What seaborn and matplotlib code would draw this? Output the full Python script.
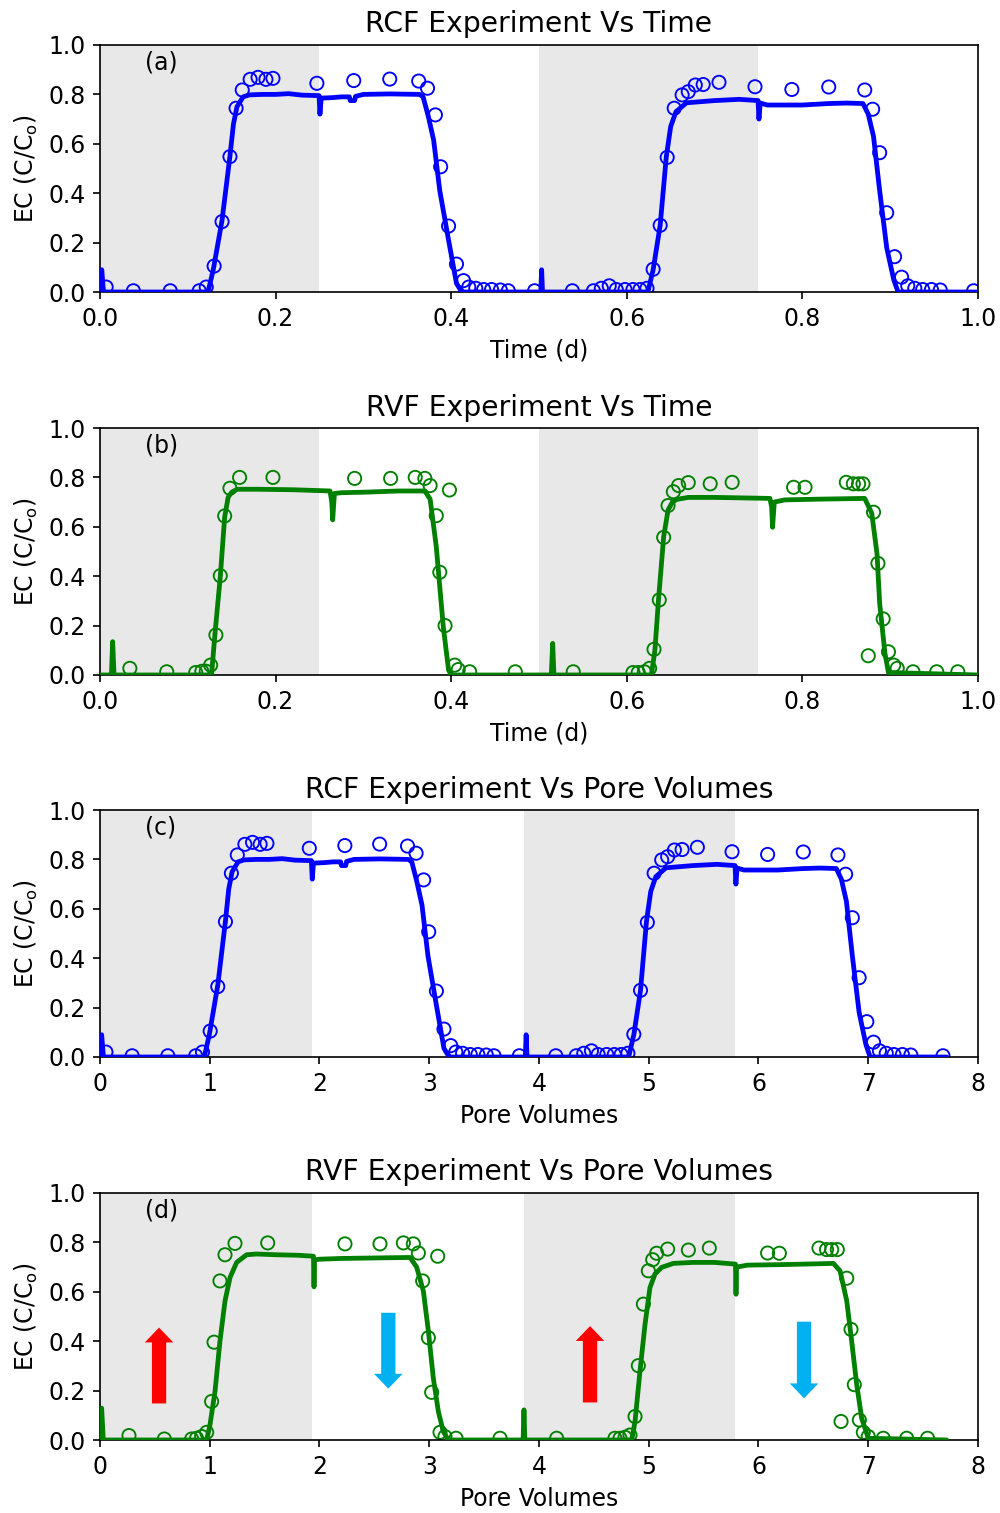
import matplotlib
matplotlib.use("Agg")
import matplotlib.pyplot as plt
import seaborn as sns
import pandas as pd

# ---------------- data ----------------
# (a) RCF vs time  (line = measured EC, markers = samples)
A_t = [0.000, 0.002, 0.004, 0.123, 0.129, 0.139, 0.148, 0.152, 0.156, 0.163, 0.170, 0.185, 0.200, 0.215, 0.230,
       0.2495, 0.2505, 0.252, 0.265, 0.275, 0.284, 0.285, 0.290, 0.291, 0.300, 0.330, 0.364, 0.368, 0.374, 0.380,
       0.387, 0.397, 0.406, 0.412, 0.502, 0.503, 0.504, 0.624, 0.630, 0.638, 0.645, 0.650, 0.656, 0.668, 0.700,
       0.728, 0.7495, 0.7505, 0.752, 0.760, 0.800, 0.830, 0.850, 0.869, 0.875, 0.881, 0.888, 0.896, 0.904, 0.909, 1.000]
A_v = [0.000, 0.090, 0.000, 0.000, 0.090, 0.290, 0.550, 0.680, 0.750, 0.790, 0.798, 0.800, 0.800, 0.803, 0.797,
       0.795, 0.720, 0.785, 0.787, 0.790, 0.790, 0.775, 0.775, 0.792, 0.800, 0.802, 0.800, 0.790, 0.710, 0.615,
       0.410, 0.210, 0.035, 0.000, 0.000, 0.090, 0.000, 0.000, 0.090, 0.270, 0.548, 0.670, 0.730, 0.766, 0.775,
       0.780, 0.775, 0.700, 0.765, 0.757, 0.757, 0.763, 0.765, 0.763, 0.720, 0.630, 0.410, 0.180, 0.050, 0.000, 0.000]
A_mt = [0.007, 0.038, 0.080, 0.113, 0.121, 0.130, 0.139, 0.148, 0.155, 0.162, 0.171, 0.180, 0.189, 0.197, 0.247,
        0.289, 0.330, 0.363, 0.373, 0.382, 0.388, 0.397, 0.406, 0.414, 0.420, 0.428, 0.437, 0.446, 0.456, 0.465, 0.495,
        0.538, 0.562, 0.571, 0.580, 0.588, 0.598, 0.607, 0.615, 0.623, 0.630, 0.638, 0.646, 0.654, 0.663, 0.670,
        0.678, 0.687, 0.705, 0.746, 0.788, 0.830, 0.871, 0.880, 0.888, 0.896, 0.905, 0.913, 0.920, 0.928, 0.937,
        0.947, 0.957, 0.995]
A_mv = [0.020, 0.005, 0.005, 0.005, 0.020, 0.105, 0.285, 0.548, 0.744, 0.818, 0.861, 0.869, 0.861, 0.865, 0.845,
        0.856, 0.862, 0.854, 0.825, 0.717, 0.507, 0.267, 0.113, 0.046, 0.020, 0.015, 0.010, 0.010, 0.008, 0.005, 0.005,
        0.005, 0.005, 0.015, 0.025, 0.010, 0.010, 0.010, 0.010, 0.015, 0.092, 0.270, 0.545, 0.744, 0.798, 0.811,
        0.838, 0.840, 0.849, 0.831, 0.820, 0.830, 0.818, 0.740, 0.564, 0.321, 0.143, 0.060, 0.025, 0.015, 0.010,
        0.010, 0.008, 0.005]

# (b) RVF vs time
B_t = [0.000, 0.013, 0.0144, 0.016, 0.127, 0.131, 0.137, 0.142, 0.146, 0.150, 0.156, 0.180, 0.220, 0.262, 0.264,
       0.265, 0.267, 0.275, 0.300, 0.340, 0.370, 0.376, 0.383, 0.387, 0.391, 0.397, 0.400, 0.514, 0.5156, 0.517,
       0.628, 0.632, 0.636, 0.642, 0.647, 0.652, 0.657, 0.670, 0.700, 0.763, 0.765, 0.766, 0.768, 0.780, 0.820,
       0.871, 0.879, 0.885, 0.888, 0.894, 0.898, 1.000]
B_v = [0.000, 0.000, 0.135, 0.000, 0.000, 0.169, 0.398, 0.640, 0.720, 0.740, 0.752, 0.752, 0.750, 0.745, 0.700,
       0.628, 0.735, 0.738, 0.740, 0.745, 0.745, 0.712, 0.520, 0.357, 0.195, 0.020, 0.000, 0.000, 0.128, 0.000,
       0.000, 0.100, 0.300, 0.560, 0.668, 0.700, 0.711, 0.719, 0.719, 0.715, 0.680, 0.598, 0.700, 0.709, 0.712,
       0.715, 0.655, 0.490, 0.290, 0.088, 0.010, 0.000]
B_mt = [0.034, 0.076, 0.109, 0.116, 0.121, 0.126, 0.132, 0.137, 0.142, 0.148, 0.159, 0.197, 0.290, 0.331, 0.359,
        0.370, 0.376, 0.398, 0.383, 0.387, 0.393, 0.404, 0.408, 0.421, 0.473,
        0.539, 0.607, 0.613, 0.620, 0.626, 0.631, 0.637, 0.642, 0.647, 0.653, 0.659, 0.670, 0.695, 0.720, 0.790,
        0.803, 0.850, 0.858, 0.864, 0.869, 0.881, 0.886, 0.892, 0.875, 0.898, 0.904, 0.908, 0.926, 0.953, 0.977]
B_mv = [0.027, 0.013, 0.010, 0.015, 0.015, 0.040, 0.162, 0.402, 0.644, 0.756, 0.800, 0.800, 0.796, 0.796, 0.800,
        0.796, 0.767, 0.749, 0.645, 0.416, 0.200, 0.040, 0.022, 0.013, 0.013,
        0.013, 0.010, 0.010, 0.013, 0.027, 0.104, 0.304, 0.557, 0.686, 0.742, 0.767, 0.779, 0.774, 0.780, 0.760,
        0.760, 0.780, 0.774, 0.774, 0.774, 0.659, 0.452, 0.227, 0.078, 0.094, 0.040, 0.027, 0.013, 0.013, 0.013]

# (c) RCF vs pore volumes
C_pv = [0.000, 0.015, 0.031, 0.950, 0.996, 1.073, 1.143, 1.173, 1.204, 1.258, 1.312, 1.428, 1.544, 1.660, 1.776,
        1.926, 1.934, 1.945, 2.046, 2.123, 2.192, 2.200, 2.239, 2.247, 2.316, 2.548, 2.810, 2.841, 2.887, 2.934,
        2.988, 3.065, 3.134, 3.181, 3.875, 3.883, 3.891, 4.817, 4.864, 4.925, 4.979, 5.018, 5.064, 5.157, 5.404,
        5.620, 5.786, 5.794, 5.805, 5.867, 6.176, 6.408, 6.562, 6.709, 6.755, 6.801, 6.855, 6.917, 6.979, 7.017, 7.715]
C_v = A_v
C_mpv = [0.054, 0.293, 0.618, 0.872, 0.934, 1.004, 1.073, 1.143, 1.197, 1.251, 1.320, 1.390, 1.459, 1.521, 1.907,
         2.231, 2.548, 2.802, 2.880, 2.949, 2.995, 3.065, 3.134, 3.196, 3.242, 3.304, 3.374, 3.443, 3.520, 3.590, 3.821,
         4.153, 4.339, 4.408, 4.478, 4.539, 4.617, 4.686, 4.748, 4.810, 4.864, 4.925, 4.987, 5.049, 5.118, 5.172,
         5.234, 5.304, 5.443, 5.759, 6.083, 6.408, 6.724, 6.794, 6.855, 6.917, 6.987, 7.048, 7.102, 7.164, 7.234,
         7.311, 7.388, 7.681]
C_mv = A_mv

# (d) RVF vs pore volumes
D_pv = [0.000, 0.015, 0.030, 0.972, 1.002, 1.048, 1.093, 1.139, 1.185, 1.245, 1.336, 1.428, 1.600, 1.800, 1.945,
        1.950, 1.955, 2.000, 2.200, 2.500, 2.825, 2.885, 2.946, 2.992, 3.037, 3.083, 3.128, 3.174, 3.855, 3.863,
        3.871, 4.845, 4.875, 4.920, 4.966, 5.011, 5.057, 5.118, 5.224, 5.400, 5.600, 5.790, 5.795, 5.800, 5.900,
        6.200, 6.500, 6.682, 6.743, 6.804, 6.849, 6.895, 6.940, 7.000, 7.715]
D_v = [0.000, 0.129, 0.000, 0.000, 0.061, 0.197, 0.400, 0.563, 0.658, 0.719, 0.750, 0.753, 0.750, 0.748, 0.744,
       0.620, 0.729, 0.732, 0.735, 0.737, 0.739, 0.700, 0.604, 0.441, 0.251, 0.115, 0.034, 0.000, 0.000, 0.122,
       0.000, 0.000, 0.075, 0.278, 0.468, 0.617, 0.672, 0.699, 0.715, 0.719, 0.719, 0.712, 0.590, 0.700, 0.708,
       0.710, 0.713, 0.715, 0.685, 0.563, 0.400, 0.224, 0.088, 0.007, 0.000]
D_mpv = [0.264, 0.586, 0.835, 0.880, 0.926, 0.972, 1.017, 1.039, 1.093, 1.139, 1.230, 1.528, 2.232, 2.551, 2.764,
         2.855, 2.901, 3.077, 2.940, 2.992, 3.022, 3.098, 3.143, 3.244, 3.645,
         4.161, 4.692, 4.738, 4.784, 4.829, 4.875, 4.905, 4.951, 4.996, 5.036, 5.072, 5.172, 5.361, 5.552, 6.083,
         6.190, 6.551, 6.620, 6.667, 6.718, 6.804, 6.843, 6.873, 6.752, 6.919, 6.955, 7.000, 7.137, 7.350, 7.540]
D_mv = [0.018, 0.004, 0.004, 0.007, 0.014, 0.031, 0.156, 0.396, 0.644, 0.750, 0.796, 0.798, 0.794, 0.794, 0.798,
        0.794, 0.757, 0.744, 0.644, 0.414, 0.193, 0.031, 0.014, 0.007, 0.007,
        0.007, 0.007, 0.007, 0.011, 0.020, 0.095, 0.301, 0.550, 0.685, 0.730, 0.756, 0.773, 0.769, 0.777, 0.757,
        0.756, 0.777, 0.771, 0.771, 0.771, 0.655, 0.448, 0.224, 0.075, 0.081, 0.031, 0.014, 0.007, 0.007, 0.007]

# shaded periods
SHADE_TIME = [(0.0, 0.25), (0.5, 0.75)]
SHADE_PV = [(0.0, 1.93), (3.86, 5.79)]

# arrows in (d): x position, start, end
UP_ARROWS = [(0.538, 0.148, 0.455), (4.465, 0.152, 0.461)]
DOWN_ARROWS = [(2.627, 0.515, 0.208), (6.415, 0.479, 0.169)]

TITLES = ["RCF Experiment Vs Time", "RVF Experiment Vs Time",
          "RCF Experiment Vs Pore Volumes", "RVF Experiment Vs Pore Volumes"]
LETTERS = ["(a)", "(b)", "(c)", "(d)"]
XLABELS = ["Time (d)", "Time (d)", "Pore Volumes", "Pore Volumes"]

# ---------------- plot ----------------
sns.set_style("ticks")
plt.rcParams["font.family"] = ["DejaVu Sans"]
plt.rcParams["font.size"] = 11.3
plt.rcParams["mathtext.default"] = "regular"
for key in ["text.color", "axes.labelcolor", "xtick.color", "ytick.color", "axes.edgecolor"]:
    plt.rcParams[key] = "black"

W, H = 1001, 1513
fig = plt.figure(figsize=(W / 150, H / 150), dpi=150)

panels = [
    (A_t, A_v, A_mt, A_mv, "blue", SHADE_TIME, (0, 1), [0.0, 0.2, 0.4, 0.6, 0.8, 1.0], ["0.0", "0.2", "0.4", "0.6", "0.8", "1.0"]),
    (B_t, B_v, B_mt, B_mv, "green", SHADE_TIME, (0, 1), [0.0, 0.2, 0.4, 0.6, 0.8, 1.0], ["0.0", "0.2", "0.4", "0.6", "0.8", "1.0"]),
    (C_pv, C_v, C_mpv, C_mv, "blue", SHADE_PV, (0, 8), list(range(9)), [str(i) for i in range(9)]),
    (D_pv, D_v, D_mpv, D_mv, "green", SHADE_PV, (0, 8), list(range(9)), [str(i) for i in range(9)]),
]
bottoms_px = [292, 675, 1057, 1440]

for i, (lx, ly, mx, my, col, shades, xlim, xt, xtl) in enumerate(panels):
    ax = fig.add_axes([100 / W, 1 - bottoms_px[i] / H, 878 / W, 247 / H])
    for s0, s1 in shades:
        ax.axvspan(s0, s1, color="lightgray", alpha=0.5, lw=0, zorder=0)
    df_m = pd.DataFrame({"x": mx, "y": my})
    sns.scatterplot(data=df_m, x="x", y="y", ax=ax, marker="o", s=40,
                    facecolor="none", edgecolor=col, linewidth=0.9, zorder=2)
    df_l = pd.DataFrame({"x": lx, "y": ly})
    sns.lineplot(data=df_l, x="x", y="y", ax=ax, color=col, lw=2.3,
                 sort=False, estimator=None, zorder=3)
    ax.set_xlim(*xlim)
    ax.set_ylim(0, 1)
    ax.set_xticks(xt)
    ax.set_xticklabels(xtl)
    ax.set_yticks([0.0, 0.2, 0.4, 0.6, 0.8, 1.0])
    ax.set_yticklabels(["0.0", "0.2", "0.4", "0.6", "0.8", "1.0"])
    ax.tick_params(colors="black", labelcolor="black")
    ax.set_xlabel(XLABELS[i], color="black")
    ax.set_ylabel(r"EC (C/C$_\mathrm{o}$)", color="black")
    ax.set_title(TITLES[i], color="black")
    ax.text(0.051, 0.93, LETTERS[i], transform=ax.transAxes, va="center", ha="left", color="black")
    for sp in ax.spines.values():
        sp.set_visible(True)
        sp.set_color("black")
    if i == 3:
        for x, y0, y1 in UP_ARROWS:
            ax.arrow(x, y0, 0, y1 - y0, width=0.13, head_width=0.26, head_length=0.06,
                     length_includes_head=True, color="#ff0000", lw=0, zorder=4)
        for x, y0, y1 in DOWN_ARROWS:
            ax.arrow(x, y0, 0, y1 - y0, width=0.13, head_width=0.26, head_length=0.06,
                     length_includes_head=True, color="#00b0f0", lw=0, zorder=4)

fig.savefig("out.png", dpi=150)
